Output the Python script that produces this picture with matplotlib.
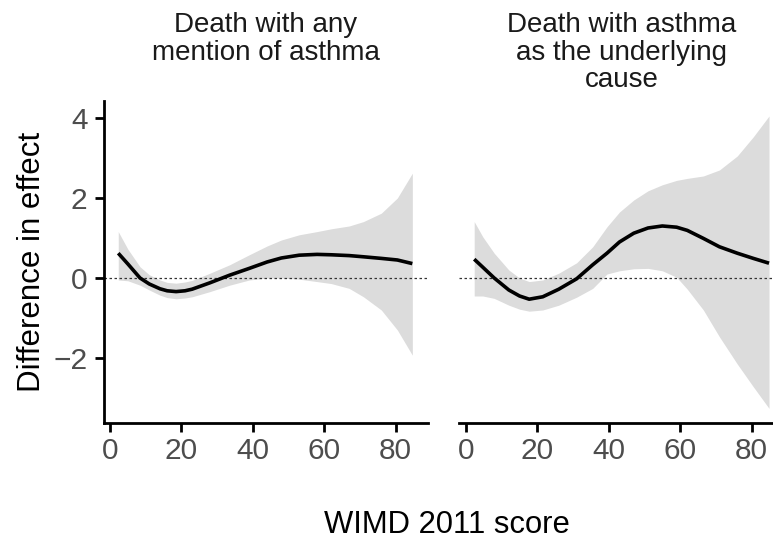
import numpy as np
import matplotlib
matplotlib.use('Agg')
import matplotlib.pyplot as plt

plt.rcParams['font.family'] = ['Liberation Sans', 'DejaVu Sans']

## Panel 1: death with any mention of asthma
x_any = [2.3, 5, 8.4, 11, 14, 16, 18.5, 21, 23, 28, 33.5, 39, 44, 48, 53, 58, 62, 67, 71, 76, 80.5, 84.7]
fit_any = [0.62, 0.35, 0.0, -0.15, -0.27, -0.32, -0.34, -0.32, -0.28, -0.12, 0.07, 0.24, 0.40, 0.50, 0.57, 0.59, 0.58, 0.56, 0.53, 0.49, 0.45, 0.36]
upper_any = [1.16, 0.72, 0.28, 0.08, -0.05, -0.11, -0.13, -0.10, -0.06, 0.12, 0.33, 0.58, 0.80, 0.95, 1.08, 1.16, 1.23, 1.30, 1.41, 1.62, 2.0, 2.62]
lower_any = [-0.05, -0.07, -0.18, -0.30, -0.43, -0.49, -0.52, -0.50, -0.47, -0.34, -0.18, -0.05, 0.0, 0.0, -0.03, -0.09, -0.14, -0.26, -0.47, -0.8, -1.3, -1.93]

## Panel 2: death with asthma as the underlying cause
x_und = [2.3, 4.7, 7.9, 12, 15, 17.7, 21.5, 26, 31, 35.5, 39.5, 43, 47, 51, 55, 59, 62, 66.5, 71, 76, 80.5, 84.9]
fit_und = [0.47, 0.27, 0.0, -0.30, -0.45, -0.53, -0.47, -0.28, -0.02, 0.33, 0.62, 0.90, 1.12, 1.25, 1.30, 1.27, 1.19, 0.99, 0.78, 0.62, 0.49, 0.37]
upper_und = [1.41, 1.03, 0.62, 0.20, 0.0, -0.09, -0.05, 0.12, 0.38, 0.78, 1.28, 1.65, 1.95, 2.18, 2.33, 2.44, 2.49, 2.55, 2.70, 3.05, 3.53, 4.05]
lower_und = [-0.45, -0.45, -0.51, -0.68, -0.78, -0.83, -0.80, -0.68, -0.48, -0.26, 0.10, 0.18, 0.23, 0.24, 0.18, 0.02, -0.28, -0.80, -1.47, -2.15, -2.72, -3.26]

titles = ['Death with any\nmention of asthma', 'Death with asthma\nas the underlying\ncause']
x_ticks = [0, 20, 40, 60, 80]
y_ticks = [-2, 0, 2, 4]

panels = [(x_any, fit_any, lower_any, upper_any), (x_und, fit_und, lower_und, upper_und)]

fig = plt.figure(figsize=(7.73, 5.44), dpi=100)
ax1 = fig.add_axes([0.1339, 0.2228, 0.4194, 0.5912])
ax2 = fig.add_axes([0.5944, 0.2228, 0.4194, 0.5912])

for ax, (xs, fit, lo, hi), title in zip([ax1, ax2], panels, titles):
    ax.fill_between(xs, lo, hi, color='#dcdcdc', linewidth=0)
    ax.axhline(0, color='#333333', linewidth=0.9, linestyle=(0, (2, 2)))
    ax.plot(xs, fit, color='black', linewidth=2.6, solid_joinstyle='round', solid_capstyle='butt')
    ax.set_xlim(-1.83, 89.0)
    ax.set_ylim(-3.62, 4.42)
    ax.set_xticks(x_ticks)
    ax.set_yticks(y_ticks)
    ax.set_yticklabels(['\u22122', '0', '2', '4'])
    for s in ['top', 'right']:
        ax.spines[s].set_visible(False)
    ax.spines['bottom'].set_linewidth(2)
    ax.spines['left'].set_linewidth(2)
    ax.tick_params(width=2, length=6.5, labelsize=21.5, labelcolor='#4d4d4d', pad=3.5)
    ax.tick_params(axis='y', pad=5)
    ax.text(0.5, 1.0 + 89 / 321.6, title, transform=ax.transAxes, ha='center', va='top',
            fontsize=20, color='#1a1a1a', linespacing=1.08)

ax2.spines['left'].set_visible(False)
ax2.tick_params(axis='y', left=False, labelleft=False)

fig.text(0.041, 0.518, 'Difference in effect', rotation=90, ha='center', va='center', fontsize=22.5)
fig.text(0.5776, 1 - 533 / 544, 'WIMD 2011 score', ha='center', va='baseline', fontsize=22.3)

fig.savefig('out.png', dpi=100)
